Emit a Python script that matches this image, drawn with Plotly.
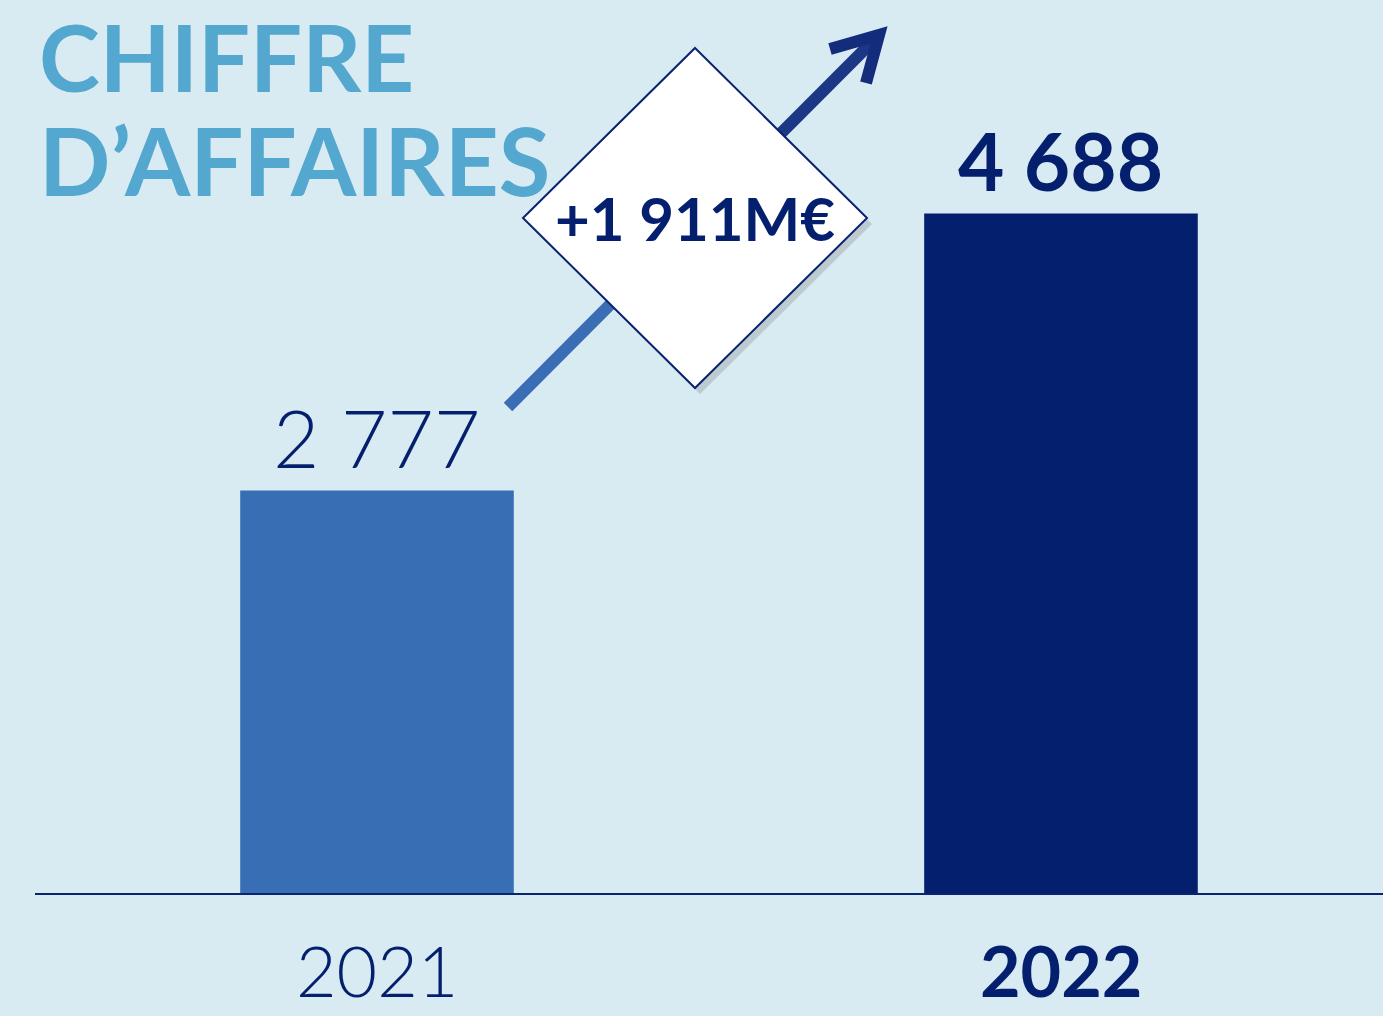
import plotly.graph_objects as go

# ---- data ----
years = ["2021", "2022"]
revenue = [2777, 4688]
title_lines = ["CHIFFRE", "D’AFFAIRES"]
bar_colors = ["#386EB3", "#041F6E"]

BG = "#D9EBF2"
NAVY = "#041F6E"
TITLE_C = "#54A7CE"
FONT = "Lato, 'Open Sans', sans-serif"

W, H = 1383, 1016
ML, MR, MT, MB = 35, 0, 0, 123
PW, PH = W - ML - MR, H - MT - MB
xr = (-0.5, 1.4708)
yr = (0, 6160)

def px_x(p):
    return xr[0] + (p - ML) / PW * (xr[1] - xr[0])

def px_y(p):
    return yr[0] + (MT + PH - p) / PH * (yr[1] - yr[0])

def pp_x(p):
    return (p - ML) / PW

def pp_y(p):
    return (MT + PH - p) / PH

def fmt(v):
    return f"{v:,}".replace(",", " ")

xs = list(range(len(years)))
fig = go.Figure(go.Bar(
    x=xs, y=revenue, width=0.4, marker=dict(color=bar_colors, line=dict(width=0)),
    hoverinfo="skip",
))

shapes = []
# arrow (lower and upper part)
sx, sy = 508, 407
tx, ty = 877, 37
mx, my = (sx + tx) / 2, (sy + ty) / 2
shapes.append(dict(type="line", x0=px_x(sx), y0=px_y(sy), x1=px_x(mx), y1=px_y(my),
                   line=dict(color="#3A6DB3", width=12), layer="above"))
shapes.append(dict(type="line", x0=px_x(mx), y0=px_y(my), x1=px_x(tx), y1=px_y(ty),
                   line=dict(color="#1B3785", width=12), layer="above"))
head = [(830, 49), (879, 35), (866, 83)]
path = "M " + " L ".join(f"{px_x(a)},{px_y(b)}" for a, b in head)
shapes.append(dict(type="path", path=path, line=dict(color="#142C7C", width=12), layer="above"))

# diamond with shadow
cx, cy, hx, hy = 695, 218, 172, 170
def diamond(ox=0, oy=0):
    pts = [(cx + ox, cy - hy + oy), (cx + hx + ox, cy + oy), (cx + ox, cy + hy + oy), (cx - hx + ox, cy + oy)]
    return "M " + " L ".join(f"{px_x(a)},{px_y(b)}" for a, b in pts) + " Z"
shapes.append(dict(type="path", path=diamond(5, 6), fillcolor="rgba(60,60,60,0.18)",
                   line=dict(width=0), layer="above"))
shapes.append(dict(type="path", path=diamond(), fillcolor="white",
                   line=dict(color="#0A2270", width=2), layer="above"))

annotations = []
# title
annotations.append(dict(text=f"<b>{title_lines[0]}</b>", xref="paper", yref="paper",
                        x=pp_x(37), y=pp_y(56), xanchor="left", yanchor="middle", showarrow=False,
                        font=dict(family=FONT, size=92, color=TITLE_C)))
annotations.append(dict(text=f"<b>{title_lines[1]}</b>", xref="paper", yref="paper",
                        x=pp_x(37), y=pp_y(159), xanchor="left", yanchor="middle", showarrow=False,
                        font=dict(family=FONT, size=94, color=TITLE_C)))
# value labels
for i, v in enumerate(revenue):
    bold = i == len(revenue) - 1
    annotations.append(dict(text=(f"<b>{fmt(v)}</b>" if bold else fmt(v)), x=i, y=v,
                            xanchor="center", yanchor="bottom", yshift=3, showarrow=False,
                            font=dict(family=FONT, size=80, color=NAVY,
                                      weight=700 if bold else 300)))
    annotations.append(dict(text=(f"<b>{years[i]}</b>" if bold else years[i]), x=i, xref="x",
                            yref="paper", y=pp_y(970), xanchor="center", yanchor="middle",
                            showarrow=False, font=dict(family=FONT, size=70, color=NAVY,
                                                       weight=700 if bold else 300)))
# difference
diff = revenue[1] - revenue[0]
annotations.append(dict(text=f"<b>+{fmt(diff)}M€</b>", x=px_x(cx), y=px_y(cy), xanchor="center",
                        yanchor="middle", showarrow=False,
                        font=dict(family=FONT, size=60, color=NAVY)))

fig.update_layout(
    width=W, height=H, margin=dict(l=ML, r=MR, t=MT, b=MB),
    paper_bgcolor=BG, plot_bgcolor=BG, showlegend=False,
    shapes=shapes, annotations=annotations,
    xaxis=dict(range=list(xr), showgrid=False, zeroline=False, showticklabels=False,
               ticks="", showline=True, linecolor="#0A2472", linewidth=2, fixedrange=True),
    yaxis=dict(range=list(yr), showgrid=False, zeroline=False, showticklabels=False,
               ticks="", showline=False, fixedrange=True),
)
fig.write_html(
    "out.html",
    config={"displayModeBar": False},
    post_script=f"document.body.style.margin='0';document.body.style.overflow='hidden';document.body.style.background='{BG}';",
)
